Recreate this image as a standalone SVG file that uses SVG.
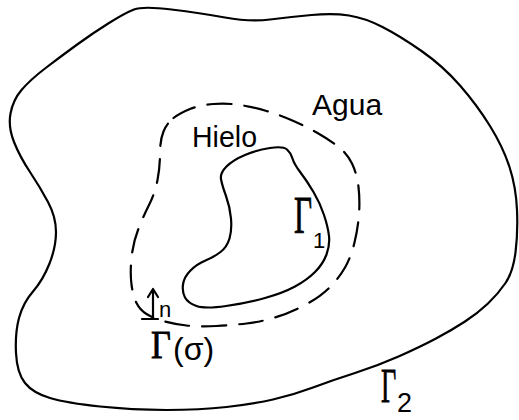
<svg xmlns="http://www.w3.org/2000/svg" width="519" height="420" viewBox="0 0 519 420">
<style>
.ln{fill:none;stroke:#000;stroke-width:2.2;stroke-linejoin:round;stroke-linecap:round}
.dash{stroke-dasharray:24 13}
.t{font-family:"Liberation Sans",Arial,sans-serif;fill:#000}
.g{font-family:"Liberation Serif","Times New Roman",serif;fill:#000;stroke:#000;stroke-width:0.8}
</style>
<rect width="519" height="420" fill="#fff"/>
<g id="outer-boundary">
<path class="ln" d="M134,9.5 Q143,6 171.5,9.5 Q200,13 225,17.5 Q250,22 270,19.5 Q290,17 311.5,15 Q333,13 349,15.5 Q365,18 382.5,27 Q400,36 421.5,51 Q443,66 460,85.5 Q477,105 490,126 Q503,147 509.5,167 Q516,187 517,210 Q518,233 515.5,252.5 Q513,272 505.5,283 Q498,294 488,303.5 Q478,313 465,321.5 Q452,330 436,338.5 Q420,347 398.5,356.5 Q377,366 355,373 Q333,380 313,387.5 Q293,395 273,399.5 Q253,404 226.5,407 Q200,410 166.5,410 Q133,410 100,406.5 Q67,403 50,398 Q33,393 25,383 Q17,373 16,353 Q15,333 19,318 Q23,303 33,291.5 Q43,280 49.5,263.5 Q56,247 56,232 Q56,217 48,202 Q40,187 30,172 Q20,157 14,142 Q8,127 10.5,113.5 Q13,100 21.5,90 Q30,80 45,68.5 Q60,57 76.5,45 Q93,33 109,23 Q125,13 134,9.5 Z"/>
</g>
<g id="ice-core">
<path class="ln" d="M221,179 Q220,173 226.5,166.5 Q233,160 245,155 Q257,150 270,148 Q283,146 287,149.5 Q291,153 292.5,158.5 Q294,164 300.5,172.5 Q307,181 313.5,192 Q320,203 324,215 Q328,227 329,236 Q330,245 326.5,254.5 Q323,264 315,272 Q307,280 295,286.5 Q283,293 265,298 Q247,303 226,306 Q205,309 196.5,306 Q188,303 185,297.5 Q182,292 183,284.5 Q184,277 190.5,270.5 Q197,264 205.5,260.5 Q214,257 220.5,252 Q227,247 229.5,238.5 Q232,230 231,218.5 Q230,207 226,196 Q222,185 221,179 Z"/>
</g>
<g id="interface">
<path class="ln dash" d="M173.5,118 Q180,113 190,109 Q200,105 213.5,104 Q227,103 240,105 Q253,107 266.5,111 Q280,115 293.5,121 Q307,127 317.5,133 Q328,139 337.5,146 Q347,153 352,163.5 Q357,174 358.5,187 Q360,200 359,214 Q358,228 354.5,242.5 Q351,257 345,267.5 Q339,278 329.5,287.5 Q320,297 305,305 Q290,313 275,317.5 Q260,322 246.5,323.5 Q233,325 216.5,326 Q200,327 186.5,325.5 Q173,324 163,321 Q153,318 146.5,314 Q140,310 136.5,303 Q133,296 131.5,284.5 Q130,273 131.5,258 Q133,243 138,230 Q143,217 149,205 Q155,193 157.5,180 Q160,167 160,153.5 Q160,140 163.5,131.5 Q167,123 173.5,118"/>
</g>
<g id="connectors">
<path class="ln" d="M153,318 L153,290 M148,297 L153,289 L158,297"/>
<path class="ln" d="M142,319 L158,319" stroke-width="3"/>
</g>
<g id="labels">
<text class="t" x="312" y="115" font-size="30">Agua</text>
<text class="t" x="192" y="147" font-size="29" textLength="65" lengthAdjust="spacingAndGlyphs">Hielo</text>
<text class="g" font-size="52" transform="translate(294,233) scale(0.6,1)">Γ</text>
<text class="t" x="313" y="248" font-size="22">1</text>
<text class="g" font-size="39" transform="translate(151,358) scale(0.88,1)">Γ</text>
<text class="t" x="173" y="360" font-size="32">(σ)</text>
<text class="g" font-size="48" transform="translate(381,402) scale(0.55,1)">Γ</text>
<text class="t" x="397" y="412" font-size="27">2</text>
<text class="t" x="159" y="317" font-size="22">n</text>
</g>
</svg>
